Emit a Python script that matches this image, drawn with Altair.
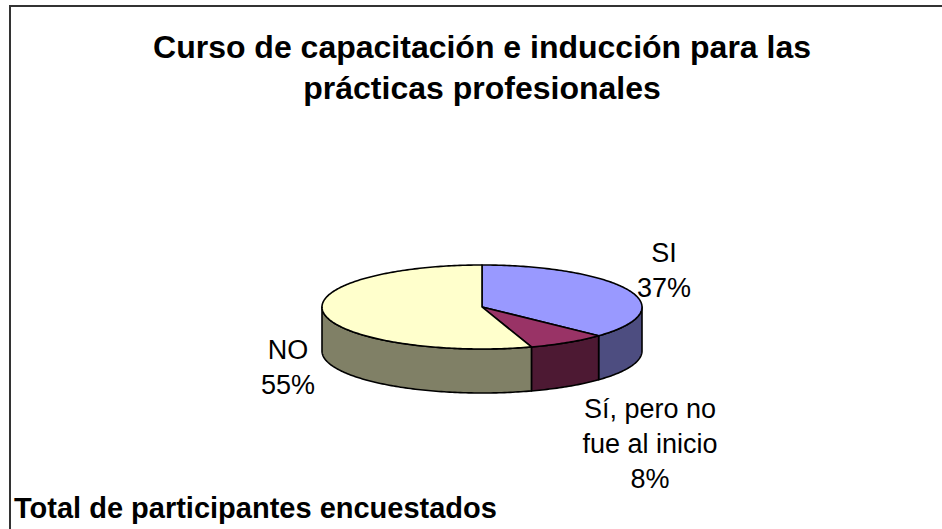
import math
import altair as alt
import pandas as pd

# ---------------- data ----------------
categories = ["SI", "Sí, pero no fue al inicio", "NO"]
label_lines = [["SI"], ["Sí, pero no", "fue al inicio"], ["NO"]]
values = [37, 8, 55]
top_colors = ["#9999FF", "#993366", "#FFFFCC"]
side_colors = ["#4D4D80", "#4D1933", "#808066"]

title_lines = ["Curso de capacitación e inducción para las", "prácticas profesionales"]
footer_text = "Total de participantes encuestados"

# ---------------- layout ----------------
W, H = 942, 529
CX, CY = 482, 307          # centre of the pie's top face (pixels)
RX, RY, DEPTH = 160, 42, 44
FONT = "Liberation Sans"
LINE = 35
# label anchors (centre x, first baseline y) per category
label_anchor = {"SI": (664, 262), "Sí, pero no fue al inicio": (650, 418), "NO": (288, 359)}

K = RY / RX
D = DEPTH / RX


def pt(theta_deg, drop=0.0):
    t = math.radians(theta_deg)
    return [math.sin(t), K * math.cos(t) - drop]


def arc_angles(a0, a1):
    n = max(2, int(abs(a1 - a0)) + 1)
    return [a0 + (a1 - a0) * i / n for i in range(n + 1)]


def feature(ring, color, name):
    return {"type": "Feature", "properties": {"fill": color, "name": name},
            "geometry": {"type": "Polygon", "coordinates": [ring]}}


total = sum(values)
tops, sides = [], []
start = 0.0
for cat, v, ct, cs in zip(categories, values, top_colors, side_colors):
    end = start + 360.0 * v / total
    angs = arc_angles(start, end)
    ring = [[0.0, 0.0]] + [pt(a) for a in angs] + [[0.0, 0.0]]
    tops.append(feature(ring, ct, cat))
    a0, a1 = max(start, 90.0), min(end, 270.0)
    if a1 > a0:
        angs = arc_angles(a0, a1)
        ring = [pt(a) for a in angs] + [pt(a, D) for a in reversed(angs)] + [pt(angs[0])]
        sides.append(feature(ring, cs, cat))
    start = end

proj = alt.Projection(type="identity", reflectY=True, scale=RX, translate=[CX, CY])

side_layer = alt.Chart(alt.Data(values=sides)).mark_geoshape(
    stroke="black", strokeWidth=1.6, strokeJoin="round"
).encode(fill=alt.Fill("properties.fill:N", scale=None)).project(**proj.to_dict())

top_layer = alt.Chart(alt.Data(values=tops)).mark_geoshape(
    stroke="black", strokeWidth=1.6, strokeJoin="round"
).encode(fill=alt.Fill("properties.fill:N", scale=None)).project(**proj.to_dict())

# slice labels
rows = []
for cat, lines, v in zip(categories, label_lines, values):
    x0, y0 = label_anchor[cat]
    for i, ln in enumerate(lines + [f"{v}%"]):
        rows.append({"px": x0, "py": y0 + i * LINE, "t": ln})
lab_df = pd.DataFrame(rows)
labels = alt.Chart(lab_df).mark_text(
    font=FONT, fontSize=27, align="center", baseline="alphabetic", color="black"
).encode(x=alt.X("px:Q", scale=None), y=alt.Y("py:Q", scale=None), text="t:N")

# title
title_df = pd.DataFrame({"px": [CX] * len(title_lines),
                         "py": [58 + 41 * i for i in range(len(title_lines))],
                         "t": title_lines})
title = alt.Chart(title_df).mark_text(
    font=FONT, fontSize=32, fontWeight="bold", align="center", baseline="alphabetic", color="black"
).encode(x=alt.X("px:Q", scale=None), y=alt.Y("py:Q", scale=None), text="t:N")

footer = alt.Chart(pd.DataFrame({"px": [14], "py": [518], "t": [footer_text]})).mark_text(
    font=FONT, fontSize=29, fontWeight="bold", align="left", baseline="alphabetic", color="black"
).encode(x=alt.X("px:Q", scale=None), y=alt.Y("py:Q", scale=None), text="t:N")

border = alt.Chart(pd.DataFrame({"a": [0]})).mark_rect(
    fill="transparent", stroke="#333333", strokeWidth=2
).encode(x=alt.value(10), y=alt.value(6), x2=alt.value(1400), y2=alt.value(1400))

chart = alt.layer(border, side_layer, top_layer, labels, title, footer).properties(
    width=W, height=H, padding=0, autosize=alt.AutoSizeParams(type="none"),
    background="white"
).configure_view(stroke=None)

chart.save("out.html", embed_options={"renderer": "svg", "actions": False})
